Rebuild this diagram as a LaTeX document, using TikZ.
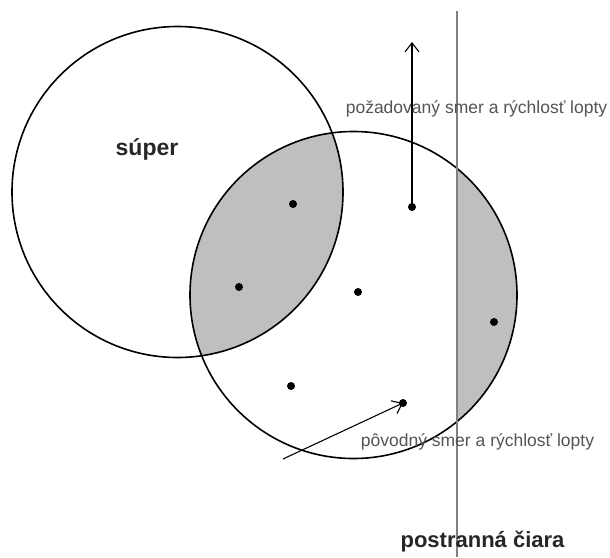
\documentclass[tikz,border=0pt]{standalone}
\usepackage{fontspec}
\setmainfont{Liberation Sans}
\usepackage{tikz}
\usetikzlibrary{arrows.meta}
\definecolor{zonegray}{gray}{0.75}
\definecolor{labelgray}{gray}{0.33}

\begin{document}
\begin{tikzpicture}[x=1pt, y=-1pt, >={Straight Barb[length=9pt,width=14pt]}]
		% 1. 画布
		\useasboundingbox (0,0) rectangle (610,557);
		
		\def\ra{165.5pt}
		\def\rb{163.5pt}
		
		% 2. 圆心与点
		\coordinate (S) at (177.5,192);
		\coordinate (K) at (353.5,295);
		\coordinate (B1) at (293,204);
		\coordinate (B2) at (412,207);
		\coordinate (B3) at (239,287);
		\coordinate (B4) at (358,292);
		\coordinate (B5) at (494,322);
		\coordinate (B6) at (291,386);
		\coordinate (B7) at (403,403);
		\coordinate (Up) at (412,42);
		\coordinate (Low) at (283,459);
		\coordinate (Ltop) at (457,11);
		\coordinate (Lbot) at (457,557);
		
		% 3. 阴影区域
		\begin{scope}
			\clip (S) circle (\ra);
			\fill[zonegray] (K) circle (\rb);
		\end{scope}
		\begin{scope}
			\clip (457,0) rectangle (610,557);
			\fill[zonegray] (K) circle (\rb);
		\end{scope}
		
		% 4. 圆与边线
		\draw[line width=1.6pt] (S) circle (\ra);
		\draw[line width=1.6pt] (K) circle (\rb);
		\draw[gray, line width=1.3pt] (Ltop) -- (Lbot);
		
		% 5. 点
		\foreach \p in {B1,B2,B3,B4,B5,B6,B7}
			\fill (\p) circle (4pt);
		
		% 6. 箭头
		\draw[->, line width=1.1pt] (B2) -- (Up);
		\draw[->, line width=1.1pt] (Low) -- (B7);
		
		% 7. 标注
		\node[anchor=base, font=\bfseries\fontsize{23}{26}\selectfont, text=black!85] (super) at (147,155) {súper};
		\node[anchor=base, font=\fontsize{17.5}{20}\selectfont, text=labelgray] (new) at (476.5,113) {požadovaný smer a rýchlosť lopty};
		\node[anchor=base, font=\fontsize{17.5}{20}\selectfont, text=labelgray] (old) at (477.5,446) {pôvodný smer a rýchlosť lopty};
		\node[anchor=base, font=\bfseries\fontsize{22}{25}\selectfont, text=black!85] (side) at (482.5,547) {postranná čiara};
		
	\end{tikzpicture}
\end{document}
